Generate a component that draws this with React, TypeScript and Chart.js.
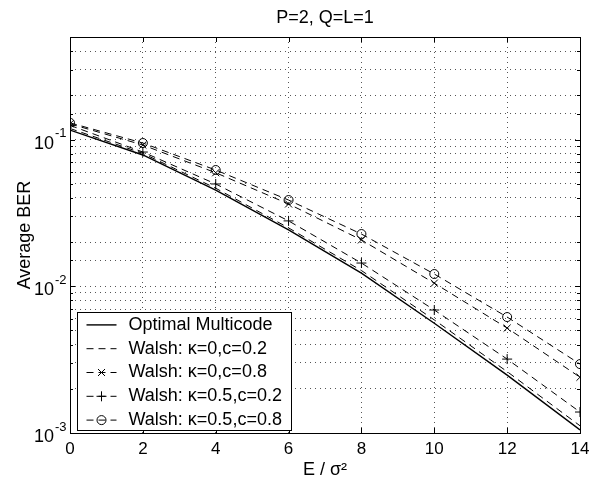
import React, { useEffect, useRef } from 'react';
import { Chart, registerables } from 'chart.js';

Chart.register(...registerables);

// ---- data ----
const xValues = [0, 2, 4, 6, 8, 10, 12, 14];
const optimalMulticode = [0.116, 0.0785, 0.0453, 0.0242, 0.0123, 0.0056, 0.00248, 0.00105];
const walshK0C02 = [0.119, 0.0805, 0.0466, 0.0250, 0.0128, 0.0059, 0.00262, 0.00112];
const walshK0C08 = [0.128, 0.0918, 0.0594, 0.0364, 0.0207, 0.0105, 0.00519, 0.0024];
const walshK05C02 = [0.125, 0.0822, 0.0498, 0.0279, 0.0144, 0.00689, 0.00319, 0.00139];
const walshK05C08 = [0.130, 0.0947, 0.062, 0.0387, 0.0227, 0.01212, 0.00617, 0.00295];

const seriesLabels = [
  'Optimal Multicode',
  'Walsh: \u03ba=0,c=0.2',
  'Walsh: \u03ba=0,c=0.8',
  'Walsh: \u03ba=0.5,c=0.2',
  'Walsh: \u03ba=0.5,c=0.8',
];
const seriesValues = [optimalMulticode, walshK0C02, walshK0C08, walshK05C02, walshK05C08];
const seriesMarkers: (string | null)[] = [null, null, 'crossRot', 'cross', 'circle'];
const seriesDashed = [false, true, true, true, true];

const titleText = 'P=2, Q=L=1';
const xTitle = 'E / \u03c3\u00b2';
const yTitle = 'Average BER';
const xTickStep = 2;
const xMin = 0;
const xMax = 14;
const yMin = 0.001;
const yMax = 0.5;
const yDecades = [0.001, 0.01, 0.1];
const yExponents = ['-3', '-2', '-1'];

const FONT = '"Liberation Sans", Arial, Helvetica, sans-serif';

function isDecade(v: number) {
  const l = Math.log10(v);
  return Math.abs(l - Math.round(l)) < 1e-6;
}

function drawMarker(ctx: CanvasRenderingContext2D, style: string, x: number, y: number) {
  ctx.beginPath();
  if (style === 'circle') {
    ctx.arc(x, y, 4.5, 0, Math.PI * 2);
  } else if (style === 'cross') {
    ctx.moveTo(x - 5, y); ctx.lineTo(x + 5, y);
    ctx.moveTo(x, y - 5); ctx.lineTo(x, y + 5);
  } else if (style === 'crossRot') {
    ctx.moveTo(x - 3.5, y - 3.5); ctx.lineTo(x + 3.5, y + 3.5);
    ctx.moveTo(x - 3.5, y + 3.5); ctx.lineTo(x + 3.5, y - 3.5);
  }
  ctx.stroke();
}

const matlabPlugin = {
  id: 'matlabDecor',
  afterDatasetsDraw(chart: any) {
    const { ctx, chartArea: a, scales } = chart;
    const xs = scales.x;
    const ys = scales.y;
    ctx.save();
    ctx.strokeStyle = '#000';
    ctx.fillStyle = '#000';
    ctx.lineWidth = 1;
    ctx.setLineDash([]);

    // inward tick marks
    ctx.beginPath();
    xs.ticks.forEach((t: any) => {
      const px = Math.round(xs.getPixelForValue(t.value)) + 0.5;
      ctx.moveTo(px, a.bottom); ctx.lineTo(px, a.bottom - 5);
      ctx.moveTo(px, a.top); ctx.lineTo(px, a.top + 5);
    });
    ys.ticks.forEach((t: any) => {
      const py = Math.round(ys.getPixelForValue(t.value)) + 0.5;
      const len = isDecade(t.value) ? 5 : 3;
      ctx.moveTo(a.left, py); ctx.lineTo(a.left + len, py);
      ctx.moveTo(a.right, py); ctx.lineTo(a.right - len, py);
    });
    ctx.stroke();

    // box
    ctx.strokeRect(Math.round(a.left) + 0.5, Math.round(a.top) + 0.5, Math.round(a.width), Math.round(a.height));

    // y tick labels 10^n
    yDecades.forEach((v, i) => {
      const py = ys.getPixelForValue(v);
      ctx.textBaseline = 'middle';
      ctx.font = '18px ' + FONT;
      ctx.textAlign = 'right';
      ctx.fillText('10', a.left - 16, py + 4);
      ctx.font = '13px ' + FONT;
      ctx.textAlign = 'left';
      ctx.fillText(yExponents[i], a.left - 15, py - 6);
    });

    // legend
    const datasets = chart.data.datasets;
    const rowH = 23.8;
    const n = datasets.length;
    ctx.font = '18px ' + FONT;
    const maxW = Math.max(...datasets.map((d: any) => ctx.measureText(d.label).width));
    const boxLeft = Math.round(a.left + 7) + 0.5;
    const boxBottom = Math.round(a.bottom - 3) + 0.5;
    const boxTop = Math.round(boxBottom - n * rowH) + 0.5;
    const boxRight = Math.round(boxLeft + 51 + maxW + 9) + 0.5;
    ctx.fillStyle = '#fff';
    ctx.fillRect(boxLeft, boxTop, boxRight - boxLeft, boxBottom - boxTop);
    ctx.strokeRect(boxLeft, boxTop, boxRight - boxLeft, boxBottom - boxTop);
    ctx.fillStyle = '#000';
    datasets.forEach((d: any, i: number) => {
      const cy = boxTop + rowH * (i + 0.5) + 0.5;
      ctx.lineWidth = d.borderWidth;
      ctx.setLineDash(d.borderDash || []);
      ctx.beginPath();
      ctx.moveTo(boxLeft + 9, cy); ctx.lineTo(boxLeft + 39, cy);
      ctx.stroke();
      ctx.setLineDash([]);
      ctx.lineWidth = 1;
      if (d.pointRadius > 0) {
        drawMarker(ctx, d.pointStyle, boxLeft + 24, cy);
      }
      ctx.textAlign = 'left';
      ctx.textBaseline = 'middle';
      ctx.fillText(d.label, boxLeft + 51, cy);
    });
    ctx.restore();
  },
};

export default function App() {
  const canvasRef = useRef<HTMLCanvasElement | null>(null);

  useEffect(() => {
    document.body.style.margin = '0';
    const canvas = canvasRef.current;
    if (!canvas) return;
    Chart.defaults.font.family = FONT;
    Chart.defaults.color = '#000';

    const datasets = seriesLabels.map((label, i) => ({
      label,
      data: xValues.map((x, j) => ({ x, y: seriesValues[i][j] })),
      borderColor: '#000',
      backgroundColor: 'rgba(0,0,0,0)',
      borderWidth: seriesDashed[i] ? 1 : 1.4,
      borderDash: seriesDashed[i] ? [7, 5] : [],
      pointStyle: seriesMarkers[i] || 'circle',
      pointRadius: seriesMarkers[i] ? (seriesMarkers[i] === 'circle' ? 4.5 : 5) : 0,
      pointBorderColor: '#000',
      pointBackgroundColor: 'rgba(0,0,0,0)',
      pointBorderWidth: 1,
      tension: 0,
      fill: false,
    }));

    const chart = new Chart(canvas, {
      type: 'line',
      data: { datasets },
      options: {
        responsive: false,
        animation: false,
        devicePixelRatio: 1,
        layout: { padding: { left: 0, right: 22, top: 0, bottom: 0 } },
        plugins: {
          legend: { display: false },
          tooltip: { enabled: false },
          title: {
            display: true,
            fullSize: false,
            text: titleText,
            color: '#000',
            font: { family: FONT, size: 18, weight: 'normal' },
            padding: { top: 7, bottom: 8.4 },
          },
        },
        scales: {
          x: {
            type: 'linear',
            min: xMin,
            max: xMax,
            ticks: { stepSize: xTickStep, color: '#000', font: { size: 17 }, padding: 6, maxRotation: 0 },
            grid: { color: '#555', drawTicks: false, lineWidth: 1 },
            border: { display: false, dash: [1, 4] },
            title: {
              display: true,
              text: xTitle,
              color: '#000',
              font: { size: 18 },
              padding: { top: 0, bottom: 2 },
            },
            afterFit: (s: any) => { s.height = 50; },
          },
          y: {
            type: 'logarithmic',
            min: yMin,
            max: yMax,
            ticks: { display: false, autoSkip: false },
            grid: { color: '#555', drawTicks: false, lineWidth: 1 },
            border: { display: false, dash: [1, 4] },
            title: {
              display: true,
              text: yTitle,
              color: '#000',
              font: { size: 18 },
              padding: { top: 14, bottom: 0 },
            },
            afterFit: (s: any) => { s.width = 70; },
          },
        },
      } as any,
      plugins: [matlabPlugin],
    });

    return () => chart.destroy();
  }, []);

  return (
    <div style={{ position: 'absolute', left: 0, top: 0 }}>
      <canvas ref={canvasRef} width={602} height={483} style={{ display: 'block' }} />
    </div>
  );
}
